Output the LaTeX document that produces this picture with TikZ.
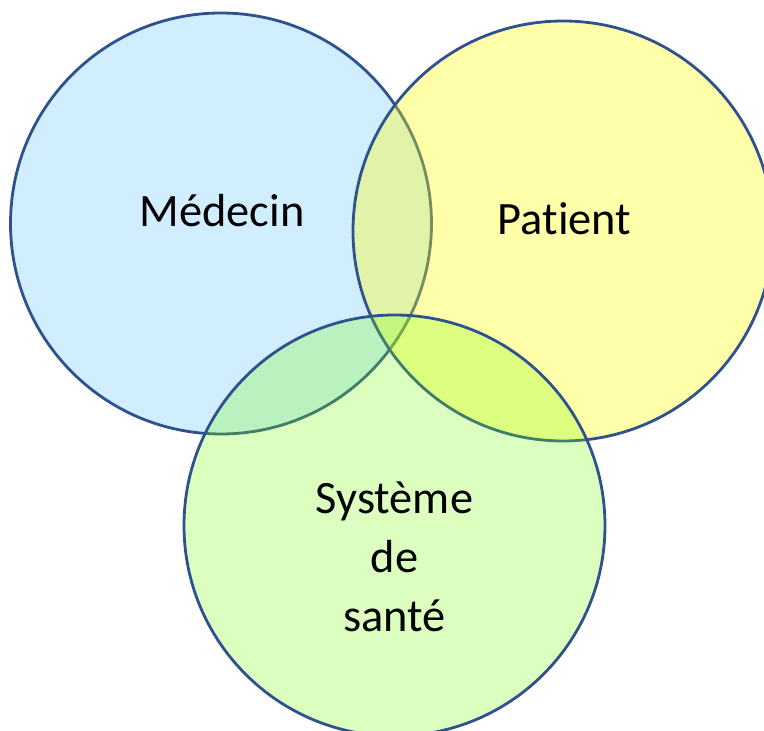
\documentclass[tikz,border=0pt]{standalone}
\usepackage{fontspec}
\setmainfont[Ligatures=NoCommon]{Carlito}
\definecolor{bordbleu}{RGB}{47,82,143}
\definecolor{fondbleu}{RGB}{208,238,255}
\definecolor{fondjaune}{RGB}{255,255,5}
\definecolor{fondvert}{RGB}{117,255,0}

\begin{document}
\begin{tikzpicture}[cercle/.style={draw=bordbleu,line width=0.8pt},
                    texte/.style={font=\fontsize{13.2}{16.8}\selectfont,align=center}]
                    \useasboundingbox (0,0) rectangle (7.64,-7.31);
                    \clip (0,0) rectangle (7.64,-7.31);
                    % les trois cercles
                    \draw[cercle,fill=fondbleu] (2.21,-2.235) circle (2.105);
                    \draw[cercle,fill=fondjaune,fill opacity=0.34] (5.63,-2.31) circle (2.10);
                    \draw[cercle,fill=fondvert,fill opacity=0.25] (3.945,-5.255) circle (2.105);
                    % les textes
                    \node[texte,anchor=base] (med) at (2.22,-2.27) {Médecin};
                    \node[texte,anchor=base] (pat) at (5.645,-2.35) {Patient};
                    \node[texte,anchor=center] (sys) at (3.945,-5.565) {Système\\de\\santé};
                \end{tikzpicture}
\end{document}
